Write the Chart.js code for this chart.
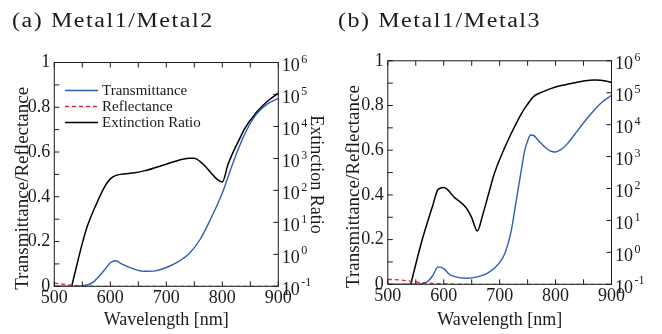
<!DOCTYPE html>
<html>
<head>
<meta charset="utf-8">
<script src="https://cdn.jsdelivr.net/npm/chart.js@4.4.1/dist/chart.umd.min.js"></script>
<style>
  body { margin: 0; background: #fff; }
  #wrap { position: relative; width: 662px; height: 334px; overflow: hidden; }
  canvas { position: absolute; top: 0; }
  .ptitle {
    position: absolute; top: 10px;
    font: 20px 'Liberation Serif', serif; line-height: 20px;
    letter-spacing: 1.3px; color: #1a1a1a; white-space: nowrap;
    transform: scaleX(1.2); transform-origin: left top;
  }
</style>
</head>
<body>
<div id="wrap">
  <canvas id="chartA" width="331" height="334" style="left:0"></canvas>
  <canvas id="chartB" width="331" height="334" style="left:331px"></canvas>
  <div class="ptitle" style="left:12px">(a) Metal1/Metal2</div>
  <div class="ptitle" style="left:338px">(b) Metal1/Metal3</div>
</div>
<script>
// axis ticks
const xTicks = [500, 600, 700, 800, 900];
const leftTicks = [0, 0.2, 0.4, 0.6, 0.8, 1];
const rightExps = [-1, 0, 1, 2, 3, 4, 5, 6];

// (a) Metal1/Metal2
const wlA_T = [500, 540, 560, 570, 580, 590, 600, 610, 620, 640, 660, 680, 700, 720, 740, 760, 780, 800, 820, 840, 860, 880, 900];
const transA = [0, 0, 0.007, 0.02, 0.045, 0.074, 0.105, 0.114, 0.10, 0.079, 0.067, 0.069, 0.084, 0.108, 0.144, 0.208, 0.305, 0.417, 0.558, 0.68, 0.766, 0.814, 0.84];
const wlA_R = [500, 520, 540, 560, 580, 600, 700, 800, 900];
const reflA = [0.014, 0.008, 0.003, 0.001, 0, 0, 0, 0, 0];
const wlA_E = [531, 550, 560, 580, 590, 600, 610, 640, 660, 700, 720, 740, 750, 760, 770, 780, 790, 800, 810, 820, 830, 840, 860, 880, 900];
const extA = [0.1, 2.2, 8.5, 58, 132, 229, 295, 347, 407, 661, 851, 1020, 1020, 813, 562, 347, 229, 182, 631, 1660, 3800, 8510, 26300, 60300, 110000];

// (b) Metal1/Metal3
const wlB_T = [500, 540, 560, 570, 580, 590, 600, 610, 620, 640, 660, 680, 700, 710, 720, 730, 740, 745, 750, 755, 760, 770, 780, 790, 800, 810, 820, 840, 860, 880, 900];
const transB = [0, 0, 0.003, 0.01, 0.037, 0.078, 0.07, 0.045, 0.034, 0.027, 0.033, 0.052, 0.097, 0.142, 0.231, 0.38, 0.53, 0.60, 0.641, 0.668, 0.667, 0.641, 0.616, 0.597, 0.592, 0.604, 0.626, 0.69, 0.753, 0.808, 0.846];
const wlB_R = [500, 520, 540, 560, 580, 600, 620, 650, 700, 900];
const reflB = [0.022, 0.02, 0.014, 0.008, 0.004, 0.002, 0.001, 0, 0, 0];
const wlB_E = [541, 560, 580, 590, 600, 620, 640, 650, 660, 670, 680, 690, 700, 720, 740, 750, 760, 780, 800, 820, 850, 870, 890, 900];
const extB = [0.1, 2.0, 28, 94, 107, 51, 25, 12.3, 4.7, 15.5, 66, 275, 813, 5000, 24000, 43700, 74100, 112000, 151000, 182000, 234000, 251000, 234000, 209000];

const SERIF = "'Liberation Serif', 'Times New Roman', serif";
Chart.defaults.font.family = SERIF;
Chart.defaults.color = '#1a1a1a';

function pts(xs, ys) {
    return xs.map((x, i) => ({ x: x, y: ys[i] }));
}

// frame, inward ticks, right decade labels, inner legend
const framePlugin = {
    id: 'frame',
    afterDraw(chart, args, opts) {
        const ctx = chart.ctx;
        const a = chart.chartArea;
        const sx = chart.scales.x, sy = chart.scales.y, sr = chart.scales.y2;
        ctx.save();
        ctx.strokeStyle = '#1a1a1a';
        ctx.lineWidth = 1;
        ctx.strokeRect(a.left, a.top, a.right - a.left, a.bottom - a.top);
        ctx.beginPath();
        for (let v = 500; v <= 900; v += 50) {
            const x = sx.getPixelForValue(v);
            ctx.moveTo(x, a.bottom); ctx.lineTo(x, a.bottom - 5);
            ctx.moveTo(x, a.top); ctx.lineTo(x, a.top + 5);
        }
        for (let i = 0; i <= 10; i++) {
            const y = sy.getPixelForValue(i / 10);
            ctx.moveTo(a.left, y); ctx.lineTo(a.left + 5, y);
        }
        rightExps.forEach(e => {
            const y = sr.getPixelForValue(Math.pow(10, e));
            ctx.moveTo(a.right, y); ctx.lineTo(a.right - 5, y);
        });
        ctx.stroke();

        // right axis labels 10^n
        ctx.fillStyle = '#1a1a1a';
        ctx.textAlign = 'left';
        ctx.textBaseline = 'middle';
        rightExps.forEach(e => {
            const y = sr.getPixelForValue(Math.pow(10, e));
            ctx.font = '18px ' + SERIF;
            ctx.fillText('10', a.right + 3.5, y + 3.5);
            const w = ctx.measureText('10').width;
            ctx.font = '12px ' + SERIF;
            ctx.fillText(String(e), a.right + 3.5 + w + 1.5, y - 3);
        });

        // y title, a little below the centre as in the reference
        ctx.save();
        ctx.font = '19px ' + SERIF;
        ctx.textAlign = 'center';
        ctx.textBaseline = 'alphabetic';
        ctx.translate(opts.titleX, (a.top + a.bottom) / 2 + 14);
        ctx.rotate(-Math.PI / 2);
        ctx.fillText('Transmittance/Reflectance', 0, 0);
        ctx.restore();

        if (opts.legend) {
            ctx.font = '15px ' + SERIF;
            chart.data.datasets.forEach((ds, i) => {
                const y = 90.5 + 16 * i;
                ctx.strokeStyle = ds.borderColor;
                ctx.lineWidth = ds.borderWidth;
                ctx.setLineDash(ds.borderDash || []);
                ctx.beginPath();
                ctx.moveTo(65, y); ctx.lineTo(98, y);
                ctx.stroke();
                ctx.setLineDash([]);
                ctx.fillStyle = '#1a1a1a';
                ctx.fillText(ds.label, 102, y + 1);
            });
        }
        ctx.restore();
    }
};

function makeChart(id, trans, refl, ext, box, rightTitle) {
    const ctx = document.getElementById(id).getContext('2d');
    return new Chart(ctx, {
        type: 'line',
        data: {
            datasets: [{
                label: 'Transmittance',
                data: trans,
                borderColor: '#2f5fb5',
                borderWidth: 1.4,
                pointRadius: 0,
                cubicInterpolationMode: 'monotone',
                yAxisID: 'y'
            }, {
                label: 'Reflectance',
                data: refl,
                borderColor: '#e0262b',
                borderWidth: 1.3,
                borderDash: [4, 3],
                pointRadius: 0,
                cubicInterpolationMode: 'monotone',
                yAxisID: 'y'
            }, {
                label: 'Extinction Ratio',
                data: ext,
                borderColor: '#000000',
                borderWidth: 1.5,
                pointRadius: 0,
                cubicInterpolationMode: 'monotone',
                yAxisID: 'y2'
            }]
        },
        options: {
            responsive: false,
            animation: false,
            events: [],
            layout: { padding: { top: box.top, left: 0, right: 0, bottom: 0 } },
            scales: {
                x: {
                    type: 'linear',
                    min: 500,
                    max: 900,
                    afterBuildTicks: s => { s.ticks = xTicks.map(v => ({ value: v })); },
                    afterFit: s => { s.height = box.xh; },
                    ticks: { font: { size: 18 }, padding: 1, maxRotation: 0 },
                    grid: { display: false, drawTicks: false },
                    border: { display: false },
                    title: {
                        display: true,
                        text: 'Wavelength [nm]',
                        font: { size: 18 },
                        padding: { top: 0, bottom: 3 }
                    }
                },
                y: {
                    position: 'left',
                    min: 0,
                    max: 1,
                    afterBuildTicks: s => { s.ticks = leftTicks.map(v => ({ value: v })); },
                    afterFit: s => { s.width = box.left; },
                    ticks: {
                        font: { size: 18 },
                        padding: 4,
                        callback: v => (v === 0 || v === 1) ? String(v) : v.toFixed(1)
                    },
                    grid: { display: false, drawTicks: false },
                    border: { display: false }
                },
                y2: {
                    type: 'logarithmic',
                    position: 'right',
                    min: 0.1,
                    max: 1e6,
                    afterFit: s => { s.width = box.right; },
                    ticks: { display: false },
                    grid: { display: false, drawTicks: false },
                    border: { display: false },
                    title: {
                        display: rightTitle,
                        text: 'Extinction Ratio',
                        font: { size: 18 },
                        padding: { top: 4 }
                    }
                }
            },
            plugins: {
                legend: { display: false },
                tooltip: { enabled: false },
                frame: { legend: box.legend, titleX: box.titleX }
            }
        },
        plugins: [framePlugin]
    });
}

makeChart('chartA', pts(wlA_T, transA), pts(wlA_R, reflA), pts(wlA_E, extA),
    { top: 62.5, left: 54.3, right: 52.7, xh: 47.7, legend: true, titleX: 28 }, true);
makeChart('chartB', pts(wlB_T, transB), pts(wlB_R, reflB), pts(wlB_E, extB),
    { top: 60.8, left: 56.8, right: 50.5, xh: 49.7, legend: false, titleX: 28 }, false);
</script>
</body>
</html>
